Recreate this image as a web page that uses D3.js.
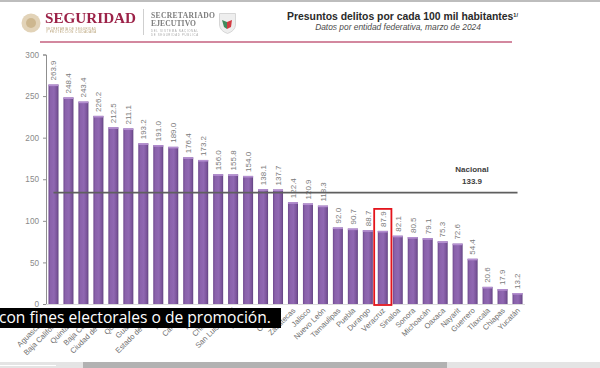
<!DOCTYPE html>
<html><head><meta charset="utf-8">
<script src="https://cdn.jsdelivr.net/npm/d3@7"></script>
<style>html,body{margin:0;padding:0;background:#fff;overflow:hidden}svg{display:block}text{font-family:"Liberation Sans",Arial,sans-serif}</style>
</head><body><svg id="c" width="600" height="368"></svg>
<script>
const states=["Aguascalientes","Baja California Sur","Quintana Roo","Baja California","Ciudad de México","Querétaro","Guanajuato","Estado de México","Morelos","Campeche","Tabasco","Chihuahua","San Luis Potosí","Hidalgo","Colima","Coahuila","Zacatecas","Jalisco","Nuevo León","Tamaulipas","Puebla","Durango","Veracruz","Sinaloa","Sonora","Michoacán","Oaxaca","Nayarit","Guerrero","Tlaxcala","Chiapas","Yucatán"];
const rates=[263.9,248.4,243.4,226.2,212.5,211.1,193.2,191.0,189.0,176.4,173.2,156.0,155.8,154.0,138.1,137.7,122.4,120.9,118.3,92.0,90.7,88.7,87.9,82.1,80.5,79.1,75.3,72.6,54.4,20.6,17.9,13.2];
const yTicks=[0,50,100,150,200,250,300];
const nationalValue=133.9;
const highlighted="Veracruz";
const titleText="Presuntos delitos por cada 100 mil habitantes";
const subtitleText="Datos por entidad federativa, marzo de 2024";
const captionText="con fines electorales o de promoción.";

const svg=d3.select("#c");
const defs=svg.append("defs");
const g=defs.append("linearGradient").attr("id","barG");
[[0,"#6f4a8e"],[.2,"#8a62ab"],[.55,"#9068b2"],[.85,"#7a5499"],[1,"#5f4280"]].forEach(s=>g.append("stop").attr("offset",s[0]).attr("stop-color",s[1]));
const blur=defs.append("filter").attr("id","soft").attr("x","-5%").attr("y","-20%").attr("width","110%").attr("height","140%");
blur.append("feGaussianBlur").attr("stdDeviation",0.35);

const x=d3.scaleBand().domain(states).range([46,525]).paddingInner(0.33).paddingOuter(0.165);
const y=d3.scaleLinear().domain([0,300]).range([304,54.5]);

// top strip and header
svg.append("rect").attr("width",600).attr("height",2).attr("fill","#bdbdbd");
const hdr=svg.append("g").attr("filter","url(#soft)");
hdr.append("circle").attr("cx",31).attr("cy",23).attr("r",9.5).attr("fill","#e2d3b8");
hdr.append("circle").attr("cx",31).attr("cy",23).attr("r",5).attr("fill","#cdb78f");
hdr.append("text").attr("x",45).attr("y",23).attr("font-size",15.5).attr("font-weight",700).attr("fill","#9c2348").attr("textLength",91).attr("lengthAdjust","spacingAndGlyphs").style("font-family","'Liberation Serif',serif").text("SEGURIDAD");
hdr.append("text").attr("x",46).attr("y",29.8).attr("font-size",2.8).attr("fill","#b39a6c").attr("textLength",50).text("SECRETARÍA DE SEGURIDAD");
hdr.append("text").attr("x",46).attr("y",33).attr("font-size",2.8).attr("fill","#b39a6c").attr("textLength",50).text("Y PROTECCIÓN CIUDADANA");
hdr.append("line").attr("x1",143.5).attr("x2",143.5).attr("y1",9).attr("y2",35).attr("stroke","#cfcfcf");
hdr.append("text").attr("x",151).attr("y",18).attr("font-size",7.6).attr("font-weight",700).attr("fill","#7d7d7d").attr("textLength",64).style("font-family","'Liberation Serif',serif").text("SECRETARIADO");
hdr.append("text").attr("x",151).attr("y",26).attr("font-size",7.6).attr("font-weight",700).attr("fill","#7d7d7d").attr("textLength",45).style("font-family","'Liberation Serif',serif").text("EJECUTIVO");
hdr.append("text").attr("x",151).attr("y",32).attr("font-size",2.8).attr("fill","#a8a8a8").attr("textLength",47).text("DEL SISTEMA NACIONAL");
hdr.append("text").attr("x",151).attr("y",35.5).attr("font-size",2.8).attr("fill","#a8a8a8").attr("textLength",47).text("DE SEGURIDAD PÚBLICA");
hdr.append("path").attr("d","M219.5 13.5H235.5V25Q235 31 227.5 33.5Q220 31 219.5 25Z").attr("fill","#eeeeee").attr("stroke","#c8c8c8").attr("stroke-width",.7);
hdr.append("path").attr("d","M222 20L227 22L227 29L224 27Z").attr("fill","#3f8a5c");
hdr.append("path").attr("d","M227 22L232 20L231 27L227 29Z").attr("fill","#d23b43");
svg.append("line").attr("x1",40).attr("x2",512).attr("y1",42).attr("y2",42).attr("stroke","#c4607f").attr("stroke-width",1.4);

const title=svg.append("text").attr("x",287).attr("y",20).attr("font-size",10.4).attr("font-weight",700).attr("fill","#2a2a2a");
title.append("tspan").text(titleText);
title.append("tspan").attr("font-size",5.5).attr("dy",-3.5).text("1/");
svg.append("text").attr("x",398).attr("y",30).attr("text-anchor","middle").attr("font-size",8.4).attr("font-style","italic").attr("fill","#4a4a4a").text(subtitleText);

// axis
const ax=svg.append("g").attr("transform","translate(46,0)").call(d3.axisLeft(y).tickValues(yTicks).tickSize(3).tickPadding(4));
ax.selectAll("path,line").attr("stroke","#8f8f8f");
ax.selectAll("text").attr("font-size",8.2).attr("fill","#8a8a8a");
svg.append("line").attr("x1",46).attr("x2",525).attr("y1",y(0)+.5).attr("y2",y(0)+.5).attr("stroke","#dcdcdc");

// bars
const bars=svg.append("g").selectAll("g").data(states).join("g");
bars.append("rect").attr("x",d=>x(d)).attr("width",x.bandwidth()).attr("y",(d,i)=>y(rates[i])).attr("height",(d,i)=>y(0)-y(rates[i])).attr("fill","url(#barG)");
bars.append("rect").attr("x",d=>x(d)).attr("width",x.bandwidth()).attr("y",(d,i)=>y(rates[i])).attr("height",1.6).attr("fill","#b48fd0");

// value labels
svg.append("g").selectAll("text").data(states).join("text")
 .attr("transform",(d,i)=>`translate(${x(d)+x.bandwidth()/2+2.8},${y(rates[i])-4}) rotate(-90)`)
 .attr("font-size",8).attr("fill","#7a7a7a").text((d,i)=>rates[i].toFixed(1));

// national line
svg.append("line").attr("x1",x(states[0])+x.bandwidth()/2).attr("x2",x(states[31])+x.bandwidth()/2).attr("y1",y(nationalValue)).attr("y2",y(nationalValue)).attr("stroke","#5f5f5f").attr("stroke-width",1.7);
svg.append("text").attr("x",472).attr("y",172).attr("text-anchor","middle").attr("font-size",8).attr("font-weight",700).attr("fill","#3d3d3d").text("Nacional");
svg.append("text").attr("x",472).attr("y",183.5).attr("text-anchor","middle").attr("font-size",8).attr("font-weight",700).attr("fill","#3d3d3d").text(nationalValue.toFixed(1));

// highlight box
const hi=states.indexOf(highlighted);
svg.append("rect").attr("x",x(highlighted)-3.6).attr("width",x.bandwidth()+7.2).attr("y",y(rates[hi])-22).attr("height",y(0)-y(rates[hi])+23).attr("fill","none").attr("stroke","#e3141c").attr("stroke-width",1.8);

// category labels
svg.append("g").selectAll("text").data(states).join("text")
 .attr("transform",d=>`translate(${x(d)+x.bandwidth()/2+3},${311}) rotate(-45)`)
 .attr("text-anchor","end").attr("font-size",7.6).attr("fill","#6e6e6e").text(d=>d);

// caption
svg.append("rect").attr("x",0).attr("y",308).attr("width",281).attr("height",20).attr("fill","#000");
svg.append("text").attr("x",-1).attr("y",323).attr("font-size",15.6).attr("font-weight",500).attr("fill","#fff").style("font-family","'Open Sans',sans-serif").text(captionText);

// bottom scroll strip
svg.append("rect").attr("x",0).attr("y",362).attr("width",600).attr("height",6).attr("fill","#e4e4e4");
svg.append("rect").attr("x",83).attr("y",362).attr("width",364).attr("height",6).attr("fill","#b2b2b2");
svg.append("rect").attr("x",0).attr("y",365).attr("width",56).attr("height",1).attr("fill","#fff");
</script></body></html>
